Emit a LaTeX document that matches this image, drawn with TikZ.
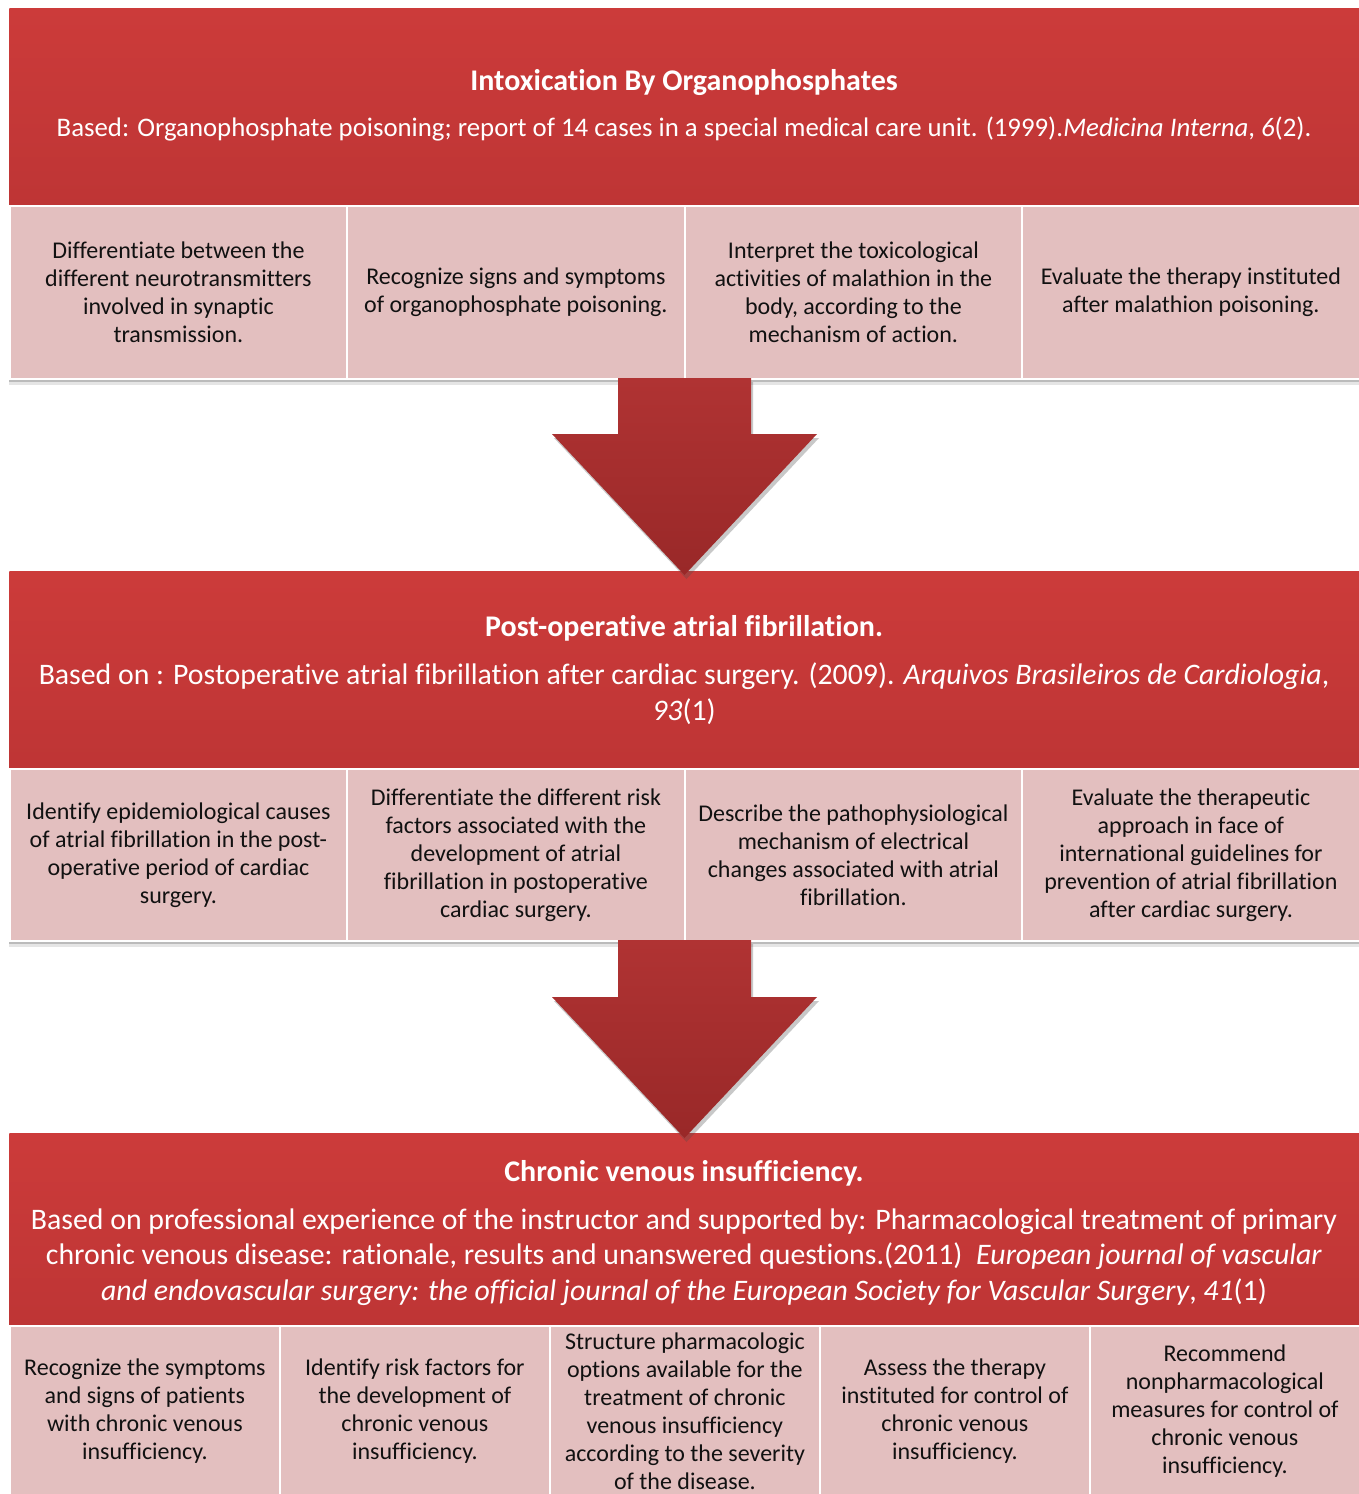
\documentclass[tikz,border=0pt]{standalone}
\usepackage{fontspec}
\setmainfont{Carlito}[Ligatures=NoCommon]
\usetikzlibrary{shadows}
\definecolor{hdrtop}{HTML}{CC3B3A}
\definecolor{hdrbot}{HTML}{BE3535}
\definecolor{cellc}{HTML}{E3BFBF}
\definecolor{arrtop}{HTML}{B03333}
\definecolor{arrbot}{HTML}{992828}
\definecolor{txt}{HTML}{111111}
\begin{document}
\begin{tikzpicture}[x=0.5pt,y=-0.5pt,
  hdrbox/.style={draw=none,top color=hdrtop,bottom color=hdrbot,inner sep=0pt,anchor=north west},
  rowbg/.style={fill=cellc,draw=none,inner sep=0pt,anchor=north west,
     drop shadow={shadow xshift=0pt,shadow yshift=-2pt,opacity=0.18,fill=black},
     drop shadow={shadow xshift=0pt,shadow yshift=-3.5pt,opacity=0.1,fill=black}},
  cellbox/.style={fill=cellc,draw=white,line width=0.9pt,inner sep=0pt,anchor=north west,
     align=center,text=txt,font=\fontsize{12}{14}\selectfont},
  titletext/.style={text=white,font=\bfseries\fontsize{15}{18}\selectfont,inner sep=0pt},
  bodytext/.style={text=white,font=\fontsize{14.9}{17.6}\selectfont,inner sep=0pt,align=center},
  bigarrow/.style={top color=arrtop,bottom color=arrbot,draw=none,
     drop shadow={shadow xshift=1pt,shadow yshift=-2pt,opacity=0.3,fill=black!70}}
]
\useasboundingbox[fill=white] (0,0) rectangle (1359,1494);

% ---------- Block 1 ----------
\node[hdrbox,minimum width=675pt,minimum height=98.5pt] (h1) at (9,8) {};
\node[titletext] (h1t) at (684,83) {Intoxication By Organophosphates};
\node[bodytext,font=\fontsize{13.4}{17}\selectfont] (h1b) at (684,129) {Based: Organophosphate poisoning; report of 14 cases in a special medical care unit. (1999).\textit{Medicina Interna}, \textit{6}(2).};
\node[rowbg,minimum width=675pt,minimum height=86.5pt] (r1) at (9,205) {};
\node[cellbox,minimum width=168.5pt,minimum height=86.5pt] (c11) at (9,205) {Differentiate between the\\different neurotransmitters\\involved in synaptic\\transmission.};
\node[cellbox,minimum width=169pt,minimum height=86.5pt] (c12) at (346,205) {Recognize signs and symptoms\\of organophosphate poisoning.};
\node[cellbox,minimum width=168.5pt,minimum height=86.5pt] (c13) at (684,205) {Interpret the toxicological\\activities of malathion in the\\body, according to the\\mechanism of action.};
\node[cellbox,minimum width=169pt,minimum height=86.5pt] (c14) at (1021,205) {Evaluate the therapy instituted\\after malathion poisoning.};

% ---------- Block 2 ----------
\node[hdrbox,minimum width=675pt,minimum height=98.5pt] (h2) at (9,571) {};
\node[titletext] (h2t) at (684,628) {Post-operative atrial fibrillation.};
\node[bodytext,font=\fontsize{14.9}{18}\selectfont] (h2b) at (684,694) {Based on : Postoperative atrial fibrillation after cardiac surgery. (2009). \textit{Arquivos Brasileiros de Cardiologia},\\\textit{93}(1)};
\node[rowbg,minimum width=675pt,minimum height=86pt] (r2) at (9,768) {};
\node[cellbox,minimum width=168.5pt,minimum height=86pt] (c21) at (9,768) {Identify epidemiological causes\\of atrial fibrillation in the post-\\operative period of cardiac\\surgery.};
\node[cellbox,minimum width=169pt,minimum height=86pt] (c22) at (346,768) {Differentiate the different risk\\factors associated with the\\development of atrial\\fibrillation in postoperative\\cardiac surgery.};
\node[cellbox,minimum width=168.5pt,minimum height=86pt] (c23) at (684,768) {Describe the pathophysiological\\mechanism of electrical\\changes associated with atrial\\fibrillation.};
\node[cellbox,minimum width=169pt,minimum height=86pt] (c24) at (1021,768) {Evaluate the therapeutic\\approach in face of\\international guidelines for\\prevention of atrial fibrillation\\after cardiac surgery.};

% ---------- Block 3 ----------
\node[hdrbox,minimum width=675pt,minimum height=96pt] (h3) at (9,1133) {};
\node[titletext] (h3t) at (684,1173) {Chronic venous insufficiency.};
\node[bodytext] (h3b) at (684,1257) {Based on professional experience of the instructor and supported by: Pharmacological treatment of primary\\chronic venous disease: rationale, results and unanswered questions.(2011) \ \textit{European journal of vascular}\\\textit{and endovascular surgery: the official journal of the European Society for Vascular Surgery}, \textit{41}(1)};
\node[cellbox,minimum width=135pt,minimum height=85pt] (c31) at (9,1325) {Recognize the symptoms\\and signs of patients\\with chronic venous\\insufficiency.};
\node[cellbox,minimum width=135pt,minimum height=85pt] (c32) at (279,1325) {Identify risk factors for\\the development of\\chronic venous\\insufficiency.};
\node[cellbox,minimum width=135pt,minimum height=85pt] (c33) at (549,1325) {Structure pharmacologic\\options available for the\\treatment of chronic\\venous insufficiency\\according to the severity\\of the disease.};
\node[cellbox,minimum width=135pt,minimum height=85pt] (c34) at (819,1325) {Assess the therapy\\instituted for control of\\chronic venous\\insufficiency.};
\node[cellbox,minimum width=135pt,minimum height=85pt] (c35) at (1089,1325) {Recommend\\nonpharmacological\\measures for control of\\chronic venous\\insufficiency.};

% ---------- Arrows ----------
\path[bigarrow] (618,378) -- (751,378) -- (751,434) -- (817,434) -- (684.5,575) -- (552,434) -- (618,434) -- cycle;
\path[bigarrow] (618,940) -- (751,940) -- (751,997) -- (817,997) -- (684.5,1138) -- (552,997) -- (618,997) -- cycle;
\end{tikzpicture}
\end{document}
